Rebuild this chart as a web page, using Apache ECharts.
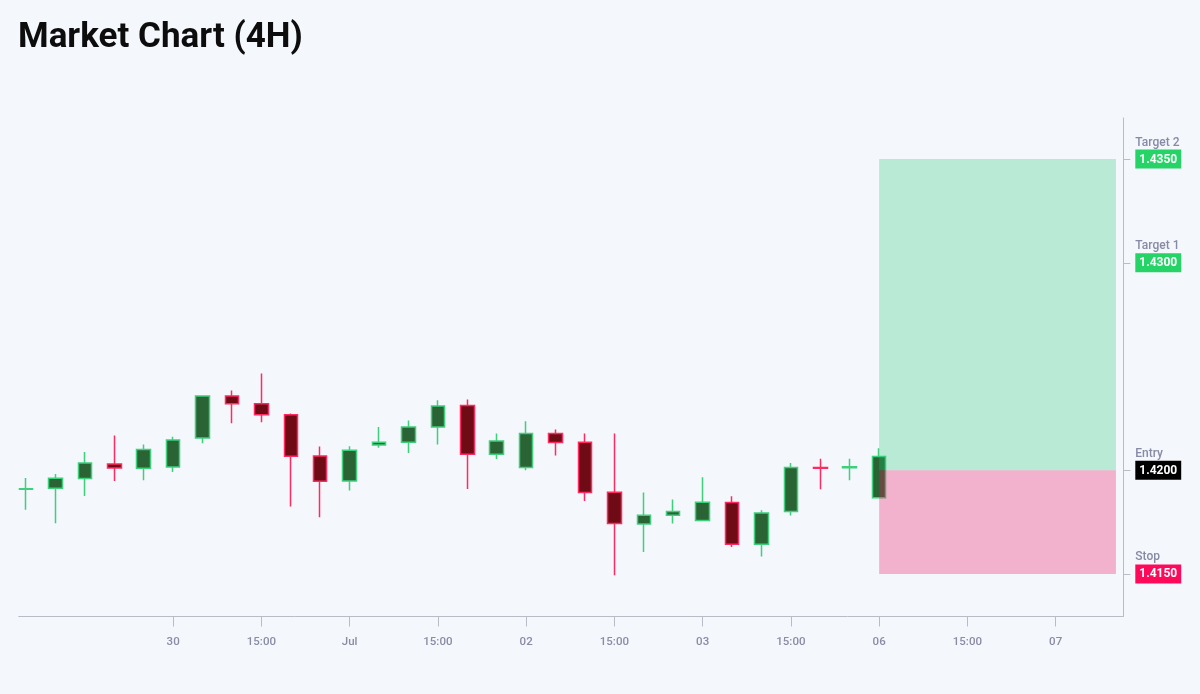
<!DOCTYPE html>
<html>
<head>
<meta charset="utf-8">
<script src="https://cdn.jsdelivr.net/npm/echarts@6/dist/echarts.min.js"></script>
<style>
html,body{margin:0;padding:0;background:#f4f7fc;}
#chart{width:1200px;height:694px;}
</style>
</head>
<body>
<div id="chart"></div>
<script>
// Candle data (4H), index 0..29
const opens  = [1.41908,1.41913,1.41960,1.42030,1.42010,1.42016,1.42156,1.42358,1.42320,1.42268,1.42069,1.41948,1.42122,1.42135,1.42209,1.42312,1.42077,1.42013,1.42177,1.42135,1.41894,1.41741,1.41783,1.41758,1.41844,1.41643,1.41801,1.42013,1.42012,1.41868];
const closes = [1.41911,1.41961,1.42035,1.42011,1.42100,1.42146,1.42358,1.42320,1.42268,1.42067,1.41947,1.42096,1.42135,1.42209,1.42310,1.42077,1.42141,1.42177,1.42134,1.41893,1.41743,1.41783,1.41801,1.41846,1.41643,1.41794,1.42013,1.42010,1.42017,1.42066];
const lows   = [1.41809,1.41745,1.41876,1.41948,1.41952,1.41992,1.42130,1.42227,1.42231,1.41825,1.41773,1.41902,1.42109,1.42083,1.42124,1.41910,1.42054,1.42000,1.42071,1.41852,1.41494,1.41606,1.41743,1.41758,1.41630,1.41584,1.41782,1.41908,1.41952,1.41868];
const highs  = [1.41963,1.41982,1.42088,1.42167,1.42124,1.42162,1.42362,1.42384,1.42466,1.42273,1.42114,1.42116,1.42209,1.42240,1.42337,1.42341,1.42177,1.42236,1.42196,1.42177,1.42177,1.41893,1.41859,1.41966,1.41875,1.41807,1.42035,1.42056,1.42056,1.42106];

// X tick labels and their candle-index positions
const tickPositions = [5,8,11,14,17,20,23,26,29,32,35];
const tickLabels = ['30','15:00','Jul','15:00','02','15:00','03','15:00','06','15:00','07'];

// Trade levels
const levelNames  = ['Target 2','Target 1','Entry','Stop'];
const levelValues = [1.4350,1.4300,1.4200,1.4150];
const levelStyles = ['tg','tg','en','st'];

// Position box (from entry candle to right edge)
const boxStart = 29;
const boxEnd = 37.05;
const entryPrice = 1.4200;
const targetPrice = 1.4350;
const stopPrice = 1.4150;

const candleData = opens.map((o, i) => [i, o, closes[i], lows[i], highs[i]]);

const chart = echarts.init(document.getElementById('chart'), null, {renderer: 'canvas'});

function levelIndex(v) {
  let best = 0, bd = Infinity;
  levelValues.forEach((lv, i) => { const d = Math.abs(lv - v); if (d < bd) { bd = d; best = i; } });
  return best;
}
function tickIndex(v) {
  let best = 0, bd = Infinity;
  tickPositions.forEach((p, i) => { const d = Math.abs(p - v); if (d < bd) { bd = d; best = i; } });
  return best;
}

const labelBox = {color: '#ffffff', fontWeight: 'bold', fontSize: 12, fontFamily: 'Roboto', padding: [4, 4, 3, 4], lineHeight: 12, align: 'left'};

chart.setOption({
  backgroundColor: '#f4f7fc',
  animation: false,
  title: {
    text: 'Market Chart (4H)',
    left: 13,
    top: 16,
    textStyle: {fontSize: 35, fontWeight: 'bold', color: '#0d0d0d', fontFamily: 'Roboto'}
  },
  grid: {left: 18.7, right: 76.7, top: 118, bottom: 77.5, containLabel: false},
  xAxis: {
    type: 'value',
    min: -0.25,
    max: 37.3,
    splitLine: {show: false},
    axisLine: {show: true, onZero: false, lineStyle: {color: '#b9bcc7', width: 1}},
    axisTick: {show: true, customValues: tickPositions, length: 10, lineStyle: {color: '#b9bcc7'}},
    axisLabel: {
      customValues: tickPositions,
      margin: 20,
      color: '#8a8ca6',
      fontSize: 11.5,
      fontWeight: 500,
      fontFamily: 'Roboto',
      formatter: v => tickLabels[tickIndex(v)]
    }
  },
  yAxis: {
    type: 'value',
    position: 'right',
    min: 1.41295,
    max: 1.43698,
    scale: true,
    splitLine: {show: false},
    axisLine: {show: true, onZero: false, lineStyle: {color: '#b9bcc7', width: 1}},
    axisTick: {show: true, customValues: levelValues, length: 7, lineStyle: {color: '#b9bcc7'}},
    axisLabel: {
      customValues: levelValues,
      margin: 12,
      formatter: v => {
        const i = levelIndex(v);
        return '{n|' + levelNames[i] + '}\n{' + levelStyles[i] + '|' + levelValues[i].toFixed(4) + '}\n{e| }';
      },
      rich: {
        n: {color: '#868aa4', fontSize: 12, fontWeight: 500, fontFamily: 'Roboto', lineHeight: 21, align: 'left'},
        e: {fontSize: 12, lineHeight: 21},
        tg: Object.assign({backgroundColor: '#25d366'}, labelBox),
        en: Object.assign({backgroundColor: '#000000'}, labelBox),
        st: Object.assign({backgroundColor: '#ff0a5a'}, labelBox)
      }
    }
  },
  series: [{
    type: 'candlestick',
    data: candleData,
    encode: {x: 0, y: [1, 2, 3, 4]},
    barWidth: 14,
    itemStyle: {
      color: '#2a6334',
      color0: '#6e0b14',
      borderColor: '#3fd07c',
      borderColor0: '#ff2a60',
      borderWidth: 1.5
    },
    markArea: {
      z: 5,
      silent: true,
      data: [
        [{xAxis: boxStart, yAxis: targetPrice, itemStyle: {color: 'rgba(30,200,110,0.28)'}}, {xAxis: boxEnd, yAxis: entryPrice}],
        [{xAxis: boxStart, yAxis: entryPrice, itemStyle: {color: 'rgba(240,20,100,0.30)'}}, {xAxis: boxEnd, yAxis: stopPrice}]
      ]
    }
  }]
});
</script>
</body>
</html>
